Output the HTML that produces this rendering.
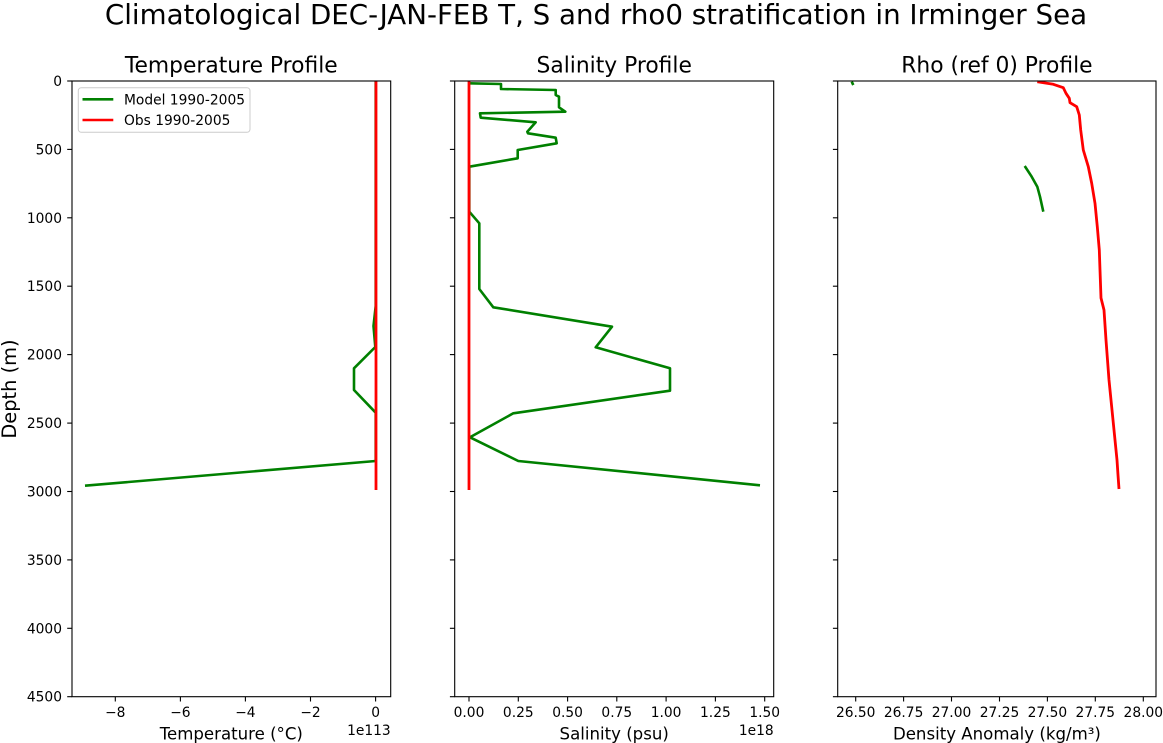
<!DOCTYPE html>
<html>
<head>
<meta charset="utf-8">
<style>
  html, body { margin: 0; padding: 0; background: #ffffff; }
  svg { display: block; }
  text { font-family: "DejaVu Sans", "Liberation Sans", sans-serif; fill: #000; }
</style>
</head>
<body>
<svg width="1163" height="743" viewBox="0 0 1163 743" xmlns="http://www.w3.org/2000/svg">
  <rect x="0" y="0" width="1163" height="743" fill="#ffffff"/>

  <!-- Suptitle -->
  <text x="596" y="24" font-size="27.7" text-anchor="middle">Climatological DEC-JAN-FEB T, S and rho0 stratification in Irminger Sea</text>

  <!-- Axes titles -->
  <text x="231.3" y="72.7" font-size="21.8" text-anchor="middle">Temperature Profile</text>
  <text x="614.2" y="72.7" font-size="21.8" text-anchor="middle">Salinity Profile</text>
  <text x="996.9" y="72.7" font-size="21.8" text-anchor="middle">Rho (ref 0) Profile</text>

  <!-- Y label -->
  <text transform="translate(16,389) rotate(-90)" font-size="19.4" text-anchor="middle">Depth (m)</text>

  <!-- ================= Panel 1: Temperature ================= -->
  <g fill="none" stroke-linejoin="round">
    <polyline stroke="#008000" stroke-width="2.6"
      points="375.7,81 375.7,306 373.5,326 375.3,347 354,368.3 354,390 375.7,412.7 375.7,461 85,485.7"/>
    <polyline stroke="#ff0000" stroke-width="2.8" points="376,81 376,490"/>
  </g>

  <!-- legend -->
  <rect x="78.3" y="87.7" width="171.7" height="44.6" rx="3" ry="3" fill="#ffffff" fill-opacity="0.8" stroke="#cccccc" stroke-width="1"/>
  <line x1="82.5" y1="99.3" x2="113.3" y2="99.3" stroke="#008000" stroke-width="2.6"/>
  <line x1="82.5" y1="120" x2="113.3" y2="120" stroke="#ff0000" stroke-width="2.6"/>
  <text x="124" y="104.5" font-size="13.8">Model 1990-2005</text>
  <text x="124" y="125" font-size="13.8">Obs 1990-2005</text>

  <!-- spines panel 1 -->
  <rect x="72" y="81" width="318.7" height="615.7" fill="none" stroke="#000" stroke-width="1.1"/>

  <!-- y ticks panel 1 -->
  <g stroke="#000" stroke-width="1.1">
    <line x1="67.2" y1="81" x2="72" y2="81"/>
    <line x1="67.2" y1="149.4" x2="72" y2="149.4"/>
    <line x1="67.2" y1="217.8" x2="72" y2="217.8"/>
    <line x1="67.2" y1="286.2" x2="72" y2="286.2"/>
    <line x1="67.2" y1="354.6" x2="72" y2="354.6"/>
    <line x1="67.2" y1="423.1" x2="72" y2="423.1"/>
    <line x1="67.2" y1="491.5" x2="72" y2="491.5"/>
    <line x1="67.2" y1="559.9" x2="72" y2="559.9"/>
    <line x1="67.2" y1="628.3" x2="72" y2="628.3"/>
    <line x1="67.2" y1="696.7" x2="72" y2="696.7"/>
  </g>
  <g font-size="13.8" text-anchor="end">
    <text x="62" y="86">0</text>
    <text x="62" y="154.4">500</text>
    <text x="62" y="222.8">1000</text>
    <text x="62" y="291.2">1500</text>
    <text x="62" y="359.6">2000</text>
    <text x="62" y="428.1">2500</text>
    <text x="62" y="496.5">3000</text>
    <text x="62" y="564.9">3500</text>
    <text x="62" y="633.3">4000</text>
    <text x="62" y="701.7">4500</text>
  </g>

  <!-- x ticks panel 1 -->
  <g stroke="#000" stroke-width="1.1">
    <line x1="115.3" y1="696.7" x2="115.3" y2="701.5"/>
    <line x1="180.4" y1="696.7" x2="180.4" y2="701.5"/>
    <line x1="245.4" y1="696.7" x2="245.4" y2="701.5"/>
    <line x1="310.5" y1="696.7" x2="310.5" y2="701.5"/>
    <line x1="375.6" y1="696.7" x2="375.6" y2="701.5"/>
  </g>
  <g font-size="13.8" text-anchor="middle">
    <text x="115.3" y="717">−8</text>
    <text x="180.4" y="717">−6</text>
    <text x="245.4" y="717">−4</text>
    <text x="310.5" y="717">−2</text>
    <text x="375.6" y="717">0</text>
  </g>
  <text x="390.7" y="735" font-size="13.8" text-anchor="end">1e113</text>
  <text x="231.3" y="739.5" font-size="16.6" text-anchor="middle">Temperature (°C)</text>

  <!-- ================= Panel 2: Salinity ================= -->
  <g fill="none" stroke-linejoin="round">
    <polyline stroke="#008000" stroke-width="2.6"
      points="469.3,83.3 501,84 501,89 555.7,90 555.7,95 559,96.7 559,107.3 565.3,111.7 480,113.3 480.7,117.7 535.7,122.3 527.3,131.7 528,133.3 555.7,137.7 556.7,143.3 517.7,150 517.7,158.3 469.3,166.7 469.3,211.7 479.3,223.3 479.3,289 493.3,307.3 612,326.7 595.7,347.3 670,368.3 670,390.7 513.3,413.3 470,437.3 518.3,461 760,485.3"/>
    <polyline stroke="#ff0000" stroke-width="2.8" points="469,81 469,490"/>
  </g>
  <rect x="454.7" y="81" width="319" height="615.7" fill="none" stroke="#000" stroke-width="1.1"/>
  <g stroke="#000" stroke-width="1.1">
    <line x1="449.9" y1="81" x2="454.7" y2="81"/>
    <line x1="449.9" y1="149.4" x2="454.7" y2="149.4"/>
    <line x1="449.9" y1="217.8" x2="454.7" y2="217.8"/>
    <line x1="449.9" y1="286.2" x2="454.7" y2="286.2"/>
    <line x1="449.9" y1="354.6" x2="454.7" y2="354.6"/>
    <line x1="449.9" y1="423.1" x2="454.7" y2="423.1"/>
    <line x1="449.9" y1="491.5" x2="454.7" y2="491.5"/>
    <line x1="449.9" y1="559.9" x2="454.7" y2="559.9"/>
    <line x1="449.9" y1="628.3" x2="454.7" y2="628.3"/>
    <line x1="449.9" y1="696.7" x2="454.7" y2="696.7"/>
    <line x1="469" y1="696.7" x2="469" y2="701.5"/>
    <line x1="518.3" y1="696.7" x2="518.3" y2="701.5"/>
    <line x1="567.6" y1="696.7" x2="567.6" y2="701.5"/>
    <line x1="616.8" y1="696.7" x2="616.8" y2="701.5"/>
    <line x1="666.1" y1="696.7" x2="666.1" y2="701.5"/>
    <line x1="715.4" y1="696.7" x2="715.4" y2="701.5"/>
    <line x1="764.7" y1="696.7" x2="764.7" y2="701.5"/>
  </g>
  <g font-size="13.8" text-anchor="middle">
    <text x="469" y="717">0.00</text>
    <text x="518.3" y="717">0.25</text>
    <text x="567.6" y="717">0.50</text>
    <text x="616.8" y="717">0.75</text>
    <text x="666.1" y="717">1.00</text>
    <text x="715.4" y="717">1.25</text>
    <text x="764.7" y="717">1.50</text>
  </g>
  <text x="773.7" y="735" font-size="13.8" text-anchor="end">1e18</text>
  <text x="614.2" y="739.5" font-size="16.6" text-anchor="middle">Salinity (psu)</text>

  <!-- ================= Panel 3: Rho ================= -->
  <g fill="none" stroke-linejoin="round">
    <polyline stroke="#008000" stroke-width="2.6" points="851.7,81.7 853.3,85"/>
    <polyline stroke="#008000" stroke-width="2.6" points="1024.7,166 1031.7,176.7 1037.3,186.7 1040,196.7 1043.3,211.7"/>
    <polyline stroke="#ff0000" stroke-width="2.8"
      points="1037.3,81.7 1053.3,84.3 1063.3,87.7 1066,93.3 1069.3,98.3 1070,102.7 1076.7,106.7 1079.3,115 1080.7,130 1083.3,150 1088.3,166.7 1091.7,183.3 1095,203.3 1097.3,226.7 1099.3,250 1100,270 1101,298 1104,310 1106,340 1109,380 1112,410 1115,440 1117,460 1118,475 1119,489"/>
  </g>
  <rect x="837.7" y="81" width="318.3" height="615.7" fill="none" stroke="#000" stroke-width="1.1"/>
  <g stroke="#000" stroke-width="1.1">
    <line x1="832.9" y1="81" x2="837.7" y2="81"/>
    <line x1="832.9" y1="149.4" x2="837.7" y2="149.4"/>
    <line x1="832.9" y1="217.8" x2="837.7" y2="217.8"/>
    <line x1="832.9" y1="286.2" x2="837.7" y2="286.2"/>
    <line x1="832.9" y1="354.6" x2="837.7" y2="354.6"/>
    <line x1="832.9" y1="423.1" x2="837.7" y2="423.1"/>
    <line x1="832.9" y1="491.5" x2="837.7" y2="491.5"/>
    <line x1="832.9" y1="559.9" x2="837.7" y2="559.9"/>
    <line x1="832.9" y1="628.3" x2="837.7" y2="628.3"/>
    <line x1="832.9" y1="696.7" x2="837.7" y2="696.7"/>
    <line x1="855.7" y1="696.7" x2="855.7" y2="701.5"/>
    <line x1="903.6" y1="696.7" x2="903.6" y2="701.5"/>
    <line x1="951.5" y1="696.7" x2="951.5" y2="701.5"/>
    <line x1="999.5" y1="696.7" x2="999.5" y2="701.5"/>
    <line x1="1047.4" y1="696.7" x2="1047.4" y2="701.5"/>
    <line x1="1095.3" y1="696.7" x2="1095.3" y2="701.5"/>
    <line x1="1143.3" y1="696.7" x2="1143.3" y2="701.5"/>
  </g>
  <g font-size="13.8" text-anchor="middle">
    <text x="855.7" y="717">26.50</text>
    <text x="903.6" y="717">26.75</text>
    <text x="951.5" y="717">27.00</text>
    <text x="999.5" y="717">27.25</text>
    <text x="1047.4" y="717">27.50</text>
    <text x="1095.3" y="717">27.75</text>
    <text x="1143.3" y="717">28.00</text>
  </g>
  <text x="996.9" y="739.5" font-size="16.6" text-anchor="middle">Density Anomaly (kg/m³)</text>
</svg>
</body>
</html>
